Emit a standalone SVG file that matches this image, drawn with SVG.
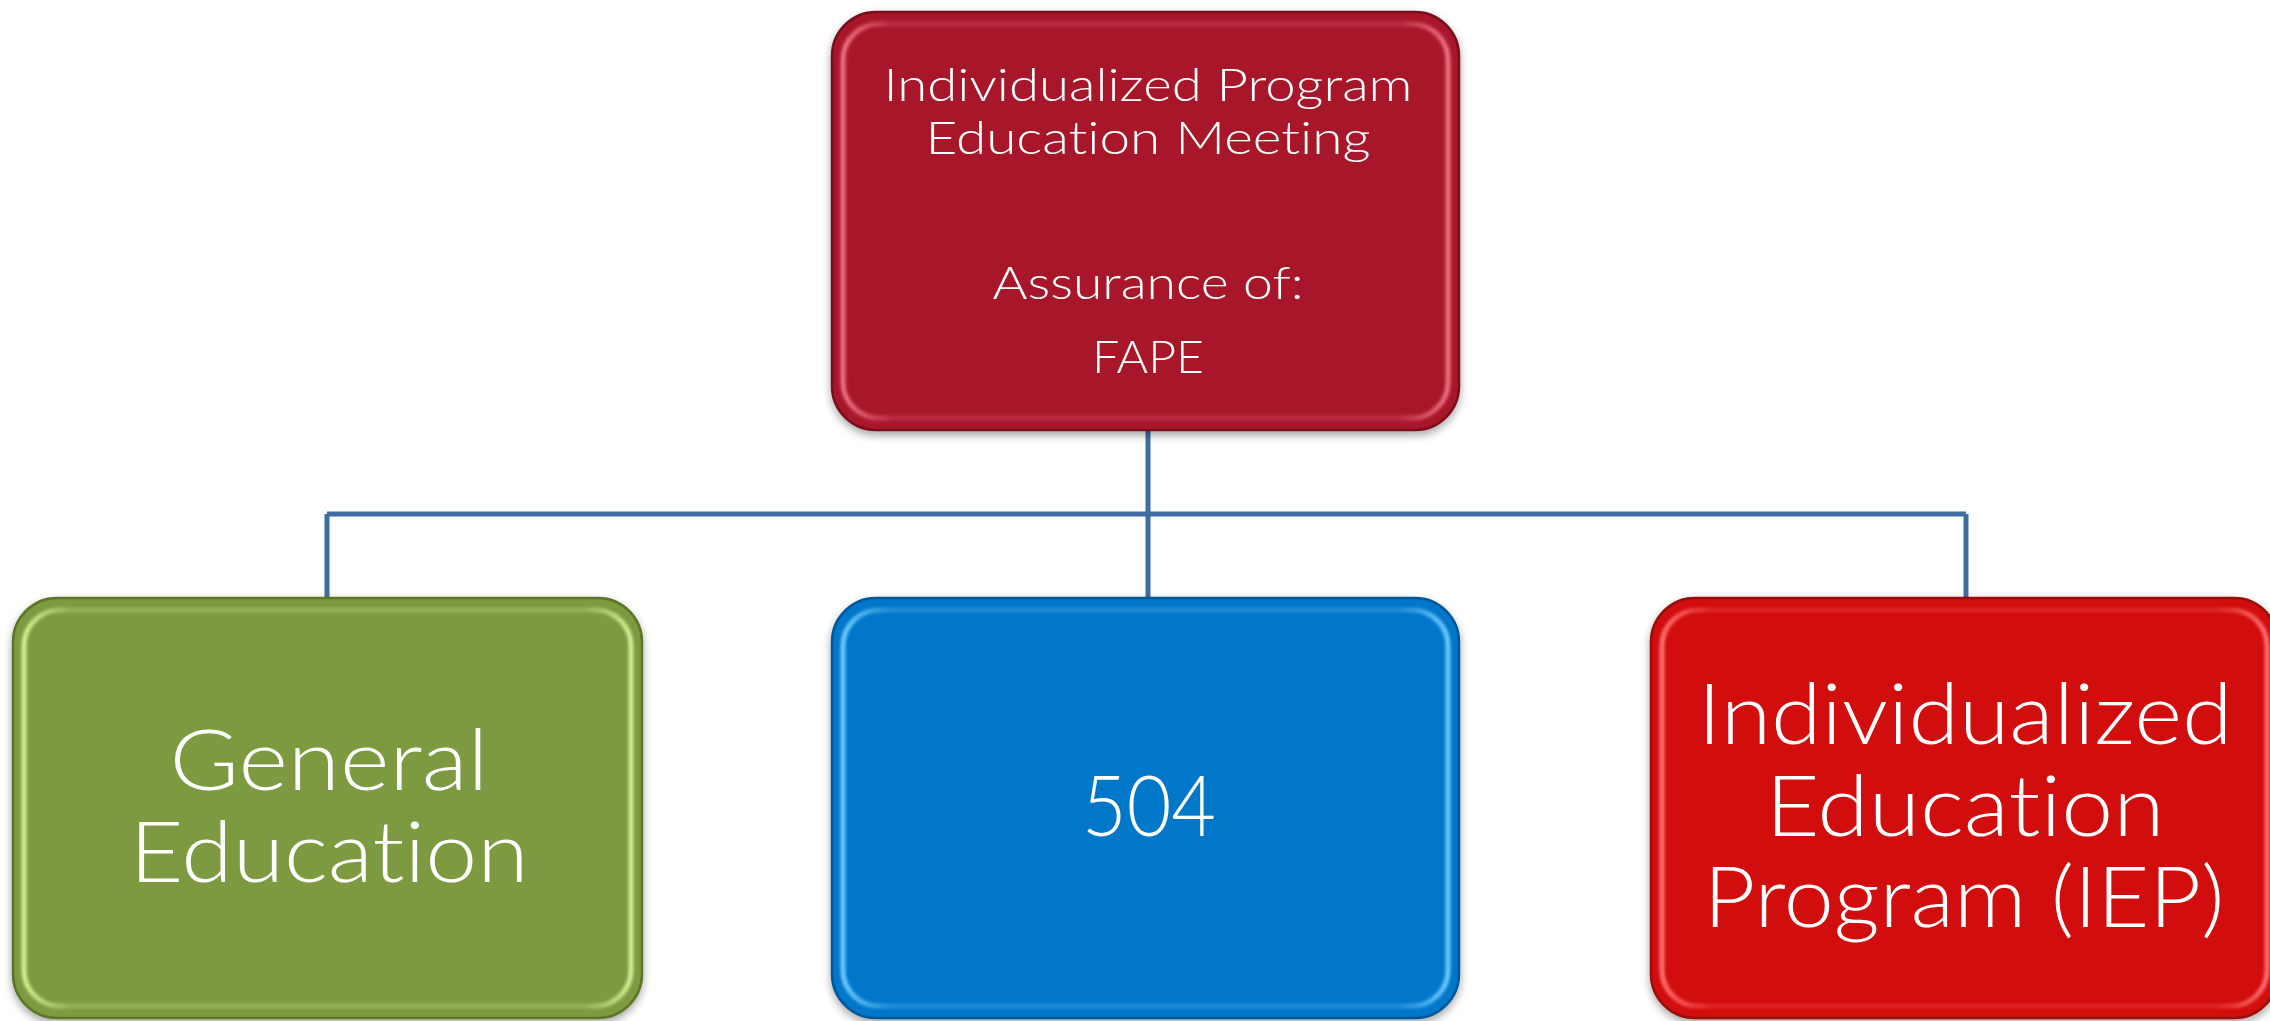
<svg xmlns="http://www.w3.org/2000/svg" width="2270" height="1021" viewBox="0 0 2270 1021">
  <style>
    .lbl { font-family: "Lato", "Liberation Sans", sans-serif; font-weight: 300; font-variant-ligatures: none; fill: #ffffff; text-anchor: middle; }
    .small { font-size: 46px; }
    .big { font-size: 84px; }
    .edge-hi { fill: none; stroke-width: 5; filter: url(#soft); }
    .conn { fill: none; stroke: #3F6DA3; stroke-width: 5; }
  </style>
  <defs>
    <filter id="shadow" x="-10%" y="-10%" width="120%" height="125%">
      <feDropShadow dx="0" dy="4" stdDeviation="4" flood-color="#000" flood-opacity="0.35"/>
    </filter>
    <filter id="soft" x="-5%" y="-5%" width="110%" height="110%">
      <feGaussianBlur stdDeviation="1.6"/>
    </filter>
    <!-- side bevel highlights, bright at the left and right edges -->
    <linearGradient id="hi-red" x1="0" y1="0" x2="1" y2="0">
      <stop offset="0" stop-color="#F07080" stop-opacity="1"/>
      <stop offset="0.08" stop-color="#F07080" stop-opacity="0.25"/>
      <stop offset="0.92" stop-color="#F07080" stop-opacity="0.25"/>
      <stop offset="1" stop-color="#F07080" stop-opacity="1"/>
    </linearGradient>
    <linearGradient id="hi-green" x1="0" y1="0" x2="1" y2="0">
      <stop offset="0" stop-color="#D4F090" stop-opacity="1"/>
      <stop offset="0.08" stop-color="#D4F090" stop-opacity="0.25"/>
      <stop offset="0.92" stop-color="#D4F090" stop-opacity="0.25"/>
      <stop offset="1" stop-color="#D4F090" stop-opacity="1"/>
    </linearGradient>
    <linearGradient id="hi-blue" x1="0" y1="0" x2="1" y2="0">
      <stop offset="0" stop-color="#6CCBFF" stop-opacity="1"/>
      <stop offset="0.08" stop-color="#6CCBFF" stop-opacity="0.25"/>
      <stop offset="0.92" stop-color="#6CCBFF" stop-opacity="0.25"/>
      <stop offset="1" stop-color="#6CCBFF" stop-opacity="1"/>
    </linearGradient>
    <linearGradient id="hi-bright" x1="0" y1="0" x2="1" y2="0">
      <stop offset="0" stop-color="#FF7070" stop-opacity="1"/>
      <stop offset="0.08" stop-color="#FF7070" stop-opacity="0.25"/>
      <stop offset="0.92" stop-color="#FF7070" stop-opacity="0.25"/>
      <stop offset="1" stop-color="#FF7070" stop-opacity="1"/>
    </linearGradient>
  </defs>

  <!-- connectors -->
  <g id="connectors">
    <path class="conn" d="M1148 430 V514"/>
    <path class="conn" d="M327 514 H1966"/>
    <path class="conn" d="M327 514 V598"/>
    <path class="conn" d="M1148 514 V598"/>
    <path class="conn" d="M1966 514 V598"/>
  </g>

  <!-- root node -->
  <g id="node-meeting" filter="url(#shadow)">
    <rect x="832" y="12" width="627" height="418" rx="44" fill="#A8182B" stroke="#7A0F1C" stroke-width="2.5"/>
    <rect class="edge-hi" x="843" y="24" width="605" height="394" rx="36" stroke="url(#hi-red)"/>
    <text class="lbl small" x="1148" y="101" textLength="529" lengthAdjust="spacingAndGlyphs">Individualized Program</text>
    <text class="lbl small" x="1148" y="154" textLength="445" lengthAdjust="spacingAndGlyphs">Education Meeting</text>
    <text class="lbl small" x="1148" y="299" textLength="311" lengthAdjust="spacingAndGlyphs">Assurance of:</text>
    <text class="lbl small" x="1148" y="373" textLength="112" lengthAdjust="spacingAndGlyphs">FAPE</text>
  </g>

  <!-- general education -->
  <g id="node-general" filter="url(#shadow)">
    <rect x="13" y="598" width="629" height="420" rx="44" fill="#7E9A40" stroke="#5C7428" stroke-width="2.5"/>
    <rect class="edge-hi" x="24" y="610" width="607" height="396" rx="36" stroke="url(#hi-green)"/>
    <text class="lbl big" x="329" y="790" textLength="319" lengthAdjust="spacingAndGlyphs">General</text>
    <text class="lbl big" x="329" y="882" textLength="399" lengthAdjust="spacingAndGlyphs">Education</text>
  </g>

  <!-- 504 -->
  <g id="node-504" filter="url(#shadow)">
    <rect x="832" y="598" width="627" height="420" rx="44" fill="#0377C9" stroke="#02589A" stroke-width="2.5"/>
    <rect class="edge-hi" x="843" y="610" width="605" height="396" rx="36" stroke="url(#hi-blue)"/>
    <text class="lbl big" x="1149" y="836" textLength="134" lengthAdjust="spacingAndGlyphs">504</text>
  </g>

  <!-- IEP -->
  <g id="node-iep" filter="url(#shadow)">
    <rect x="1651" y="598" width="627" height="420" rx="44" fill="#D20D0D" stroke="#9A0808" stroke-width="2.5"/>
    <rect class="edge-hi" x="1662" y="610" width="605" height="396" rx="36" stroke="url(#hi-bright)"/>
    <text class="lbl big" x="1965" y="744" textLength="535" lengthAdjust="spacingAndGlyphs">Individualized</text>
    <text class="lbl big" x="1965" y="836" textLength="399" lengthAdjust="spacingAndGlyphs">Education</text>
    <text class="lbl big" x="1964" y="927" textLength="521" lengthAdjust="spacingAndGlyphs">Program (IEP)</text>
  </g>
</svg>
